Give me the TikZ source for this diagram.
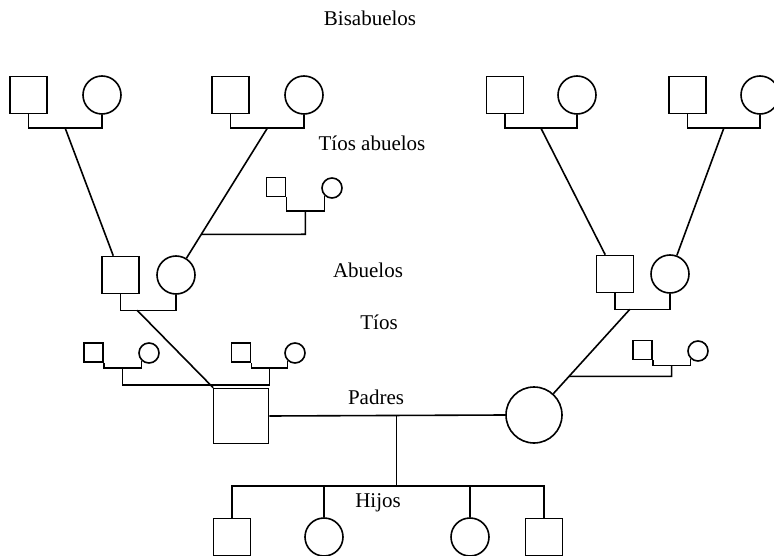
\documentclass[tikz,border=0pt]{standalone}
\usepackage{fontspec}
\setmainfont{Liberation Serif}
\usetikzlibrary{calc,positioning}
\tikzset{
  hombre/.style={draw,rectangle,minimum size=37pt,inner sep=0pt},
  mujer/.style={draw,circle,minimum size=38pt,inner sep=0pt},
  hombrep/.style={hombre,minimum size=19pt},
  mujerp/.style={mujer,minimum size=20pt},
  rotulo/.style={font=\fontsize{21}{24}\selectfont},
}

\begin{document}
\begin{tikzpicture}[x=1pt,y=-1pt,line width=1.6pt]
\useasboundingbox (0,0) rectangle (774,556);
% bisabuelos
\node[hombre] (ba) at (28.5,95) {};
\node[mujer]  (bb) at (102,95) {};
\node[hombre] (bc) at (230.5,95) {};
\node[mujer]  (bd) at (304,95) {};
\node[hombre] (be) at (505,95) {};
\node[mujer]  (bf) at (577,95) {};
\node[hombre] (bg) at (687.5,95) {};
\node[mujer]  (bh) at (760,95) {};
% abuelos
\node[hombre] (aa) at (120.5,275) {};
\node[mujer]  (ab) at (176,275) {};
\node[hombre] (ac) at (615,274) {};
\node[mujer]  (ad) at (670,274) {};
% tios abuelos y tios
\node[hombrep] (ta) at (276,187) {};
\node[mujerp]  (tb) at (332,188) {};
\node[hombrep] (tc) at (93.5,352.5) {};
\node[mujerp]  (td) at (149,353) {};
\node[hombrep] (te) at (241,352.5) {};
\node[mujerp]  (tf) at (295,353) {};
\node[hombrep] (tg) at (642.5,350) {};
\node[mujerp]  (th) at (698,351) {};
% padres
\node[hombre,minimum size=55pt] (pa) at (241,416) {};
\node[mujer,minimum size=56pt]  (ma) at (534,415) {};
% hijos
\node[hombre] (ha) at (232,537) {};
\node[mujer]  (hb) at (324,537) {};
\node[mujer]  (hc) at (470,537) {};
\node[hombre] (hd) at (544,537) {};
% rotulos
\node[rotulo] (lbis) at (370,18) {Bisabuelos};
\node[rotulo] (ltab) at (372,143) {Tíos abuelos};
\node[rotulo] (labu) at (368,270) {Abuelos};
\node[rotulo] (ltio) at (379,322) {Tíos};
\node[rotulo] (lpad) at (376,397) {Padres};
\node[rotulo] (lhij) at (378,503) {Hijos};
% parejas de bisabuelos
\draw (ba.south) -- ++(0,14) coordinate (kab) -| (bb.south);
\draw (bc.south) -- ++(0,14) coordinate (kcd) -| (bd.south);
\draw (be.south) -- ++(0,14) coordinate (kef) -| (bf.south);
\draw (bg.south) -- ++(0,14) coordinate (kgh) -| (bh.south);
\coordinate (uab) at ($(kab)!.5!(kab -| bb.south)$);
\coordinate (ucd) at ($(kcd)!.5!(kcd -| bd.south)$);
\coordinate (uef) at ($(kef)!.5!(kef -| bf.south)$);
\coordinate (ugh) at ($(kgh)!.5!(kgh -| bh.south)$);
\draw (uab) -- (aa);
\draw (ucd) -- (ab);
\draw (uef) -- (ac);
\draw (ugh) -- (ad);
% tios abuelos
\draw (ta.south east) -- ++(0,14) coordinate (kta) -| (tb.south west);
\coordinate (uta) at ($(kta)!.5!(kta -| tb.south west)$);
\coordinate (dta) at ($(uta)+(0,23)$);
\coordinate (eta) at (dta -| ucd);
\draw (uta) -- (dta) -- (intersection of ucd--ab and dta--eta);
% abuelos
\draw (aa.south) -- ++(0,16) coordinate (kaa) -| (ab.south);
\draw (ac.south) -- ++(0,16) coordinate (kac) -| (ad.south);
\coordinate (uaa) at ($(kaa)!.3!(kaa -| ab.south)$);
\coordinate (uac) at ($(kac)!.27!(kac -| ad.south)$);
\draw (uaa) -- (pa);
\draw (uac) -- (ma);
% tios paternos
\draw (tc.south east) -- ++(0,5) coordinate (ktc) -| (td.south west);
\draw (te.south east) -- ++(0,5) coordinate (kte) -| (tf.south west);
\coordinate (utc) at ($(ktc)!.5!(ktc -| td.south west)$);
\coordinate (ute) at ($(kte)!.5!(kte -| tf.south west)$);
\draw (utc) -- ++(0,17) -| (ute);
% tios maternos
\draw (tg.south east) -- ++(0,5) coordinate (ktg) -| (th.south west);
\coordinate (utg) at ($(ktg)!.5!(ktg -| th.south west)$);
\coordinate (dtg) at ($(utg)+(0,11)$);
\coordinate (etg) at (dtg -| uac);
\draw (utg) -- (dtg) -- (intersection of uac--ma and dtg--etg);
% padres e hijos
\draw (pa.east) -- (ma.west);
\coordinate (upm) at ($(pa.east)!.54!(ma.west)$);
\draw (upm) -- ++(0,71);
\draw (ha.north) -- ++(0,-32) coordinate (kha) -| (hd.north);
\draw (hb.north) -- (hb.north |- kha);
\draw (hc.north) -- (hc.north |- kha);
\end{tikzpicture}
\end{document}
